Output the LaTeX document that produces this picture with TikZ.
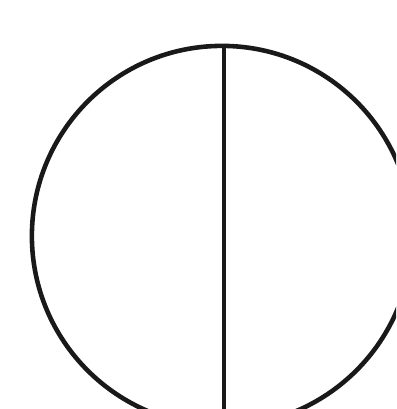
\documentclass[tikz,border=0pt]{standalone}
\usetikzlibrary{positioning, calc}

\tikzset{
  rim/.style={draw=black!90, line width=1.3pt, circle, inner sep=0pt, minimum size=3.8cm},
  chord/.style={draw=black!90, line width=1.3pt}
}

\begin{document}
\begin{tikzpicture}[x=0.01cm, y=-0.01cm]
  \useasboundingbox (0,0) rectangle (396,409);
  \clip (0,0) rectangle (396,409);

  % Circle
  \node[rim] (disc) at (222,236) {};

  % Vertical line
  \coordinate (foot) at (224,409);
  \draw[chord] (disc.north -| foot) -- (foot);
\end{tikzpicture}
\end{document}
